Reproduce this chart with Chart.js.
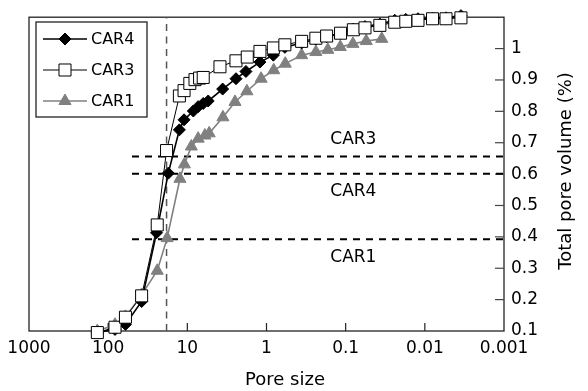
<!DOCTYPE html>
<html>
<head>
<meta charset="utf-8">
<script src="https://cdn.jsdelivr.net/npm/chart.js@4.4.0/dist/chart.umd.min.js"></script>
<style>
  html, body { margin: 0; padding: 0; background: #fff; }
  #wrap { width: 588px; height: 391px; position: relative; }
</style>
</head>
<body>
<div id="wrap"><canvas id="c"></canvas></div>
<script>
// series, in legend order
const seriesNames = ['CAR4', 'CAR3', 'CAR1'];

const car4Size = [137, 82, 60.5, 37.8, 24.5, 17.4, 12.6, 11.0, 8.4, 7.3, 6.3, 5.45, 3.58, 2.43, 1.82, 1.21, 0.82, 0.586, 0.36, 0.238, 0.174, 0.116, 0.080, 0.057, 0.037, 0.024, 0.0174, 0.0122, 0.0080, 0.0054, 0.0035];
const car4Vol = [0.095, 0.105, 0.121, 0.194, 0.413, 0.603, 0.741, 0.773, 0.801, 0.815, 0.825, 0.833, 0.871, 0.904, 0.927, 0.957, 0.979, 1.004, 1.018, 1.030, 1.038, 1.048, 1.062, 1.070, 1.078, 1.090, 1.093, 1.095, 1.097, 1.098, 1.105];

const car3Size = [137, 82, 60.5, 37.8, 24, 18.3, 12.6, 11.0, 9.3, 8.0, 7.0, 6.3, 3.87, 2.43, 1.75, 1.21, 0.82, 0.586, 0.36, 0.238, 0.174, 0.116, 0.080, 0.057, 0.037, 0.024, 0.0174, 0.0122, 0.0080, 0.0054, 0.0035];
const car3Vol = [0.095, 0.112, 0.144, 0.212, 0.438, 0.675, 0.849, 0.866, 0.889, 0.901, 0.906, 0.908, 0.942, 0.961, 0.973, 0.991, 1.002, 1.012, 1.023, 1.033, 1.040, 1.049, 1.060, 1.066, 1.074, 1.084, 1.087, 1.090, 1.095, 1.095, 1.098];

const car1Size = [137, 82, 60.5, 37.8, 24, 18, 12.4, 10.9, 8.9, 7.3, 6.0, 5.3, 3.55, 2.5, 1.77, 1.17, 0.81, 0.58, 0.36, 0.238, 0.168, 0.117, 0.081, 0.055, 0.035];
const car1Vol = [0.100, 0.120, 0.145, 0.215, 0.292, 0.396, 0.585, 0.631, 0.688, 0.713, 0.723, 0.730, 0.781, 0.830, 0.864, 0.904, 0.931, 0.952, 0.979, 0.989, 0.996, 1.005, 1.015, 1.024, 1.031];

// dashed reference lines and their labels
const thresholdNames = ['CAR3', 'CAR4', 'CAR1'];
const thresholdVol = [0.656, 0.601, 0.392];
const thresholdFrom = 50;
const thresholdTo = 0.001;
const refSize = 18.3;
const labelSize = 0.08;
const labelVol = [0.709, 0.545, 0.334];

// axes
const xTicks = [1000, 100, 10, 1, 0.1, 0.01, 0.001];
const xTickLabels = ['1000', '100', '10', '1', '0.1', '0.01', '0.001'];
const yTicks = [0.1, 0.2, 0.3, 0.4, 0.5, 0.6, 0.7, 0.8, 0.9, 1];
const yTickLabels = ['0.1', '0.2', '0.3', '0.4', '0.5', '0.6', '0.7', '0.8', '0.9', '1'];

const FONT = '"DejaVu Sans", sans-serif';
const GREY = '#808080';
const pts = (xs, ys) => xs.map((x, i) => ({ x: x, y: ys[i] }));

const styles = {
  CAR4: { color: '#000', line: 1.6, pointStyle: 'rectRot', radius: 6, fill: '#000' },
  CAR3: { color: '#000', line: 1, pointStyle: 'rect', radius: 8.5, fill: '#fff' },
  CAR1: { color: GREY, line: 1.6, pointStyle: 'triangle', radius: 7, fill: GREY }
};

function seriesDs(name, data, order) {
  const s = styles[name];
  return {
    label: name, data: data, showLine: true, order: order, clip: false,
    borderColor: s.color, borderWidth: s.line,
    pointStyle: s.pointStyle, pointRadius: s.radius,
    pointBackgroundColor: s.fill, pointBorderColor: s.color, pointBorderWidth: 1
  };
}

const datasets = [
  seriesDs('CAR3', pts(car3Size, car3Vol), 1),
  seriesDs('CAR4', pts(car4Size, car4Vol), 2),
  seriesDs('CAR1', pts(car1Size, car1Vol), 3)
];
thresholdVol.forEach((v, i) => {
  datasets.push({
    label: thresholdNames[i] + ' level', data: [{ x: thresholdFrom, y: v }, { x: thresholdTo, y: v }],
    showLine: true, order: 5, borderColor: '#000', borderWidth: 2, borderDash: [7, 6], pointRadius: 0
  });
});
datasets.push({
  label: 'ref', data: [{ x: refSize, y: 0.1 }, { x: refSize, y: 1.1 }],
  showLine: true, order: 6, borderColor: '#555', borderWidth: 1.5, borderDash: [7, 5.5], pointRadius: 0
});

// frame, inward ticks, legend box, labels and titles
const decor = {
  id: 'decor',
  beforeDatasetsDraw(chart) {
    const { ctx, chartArea: a, scales } = chart;
    ctx.save();
    ctx.strokeStyle = '#222';
    ctx.lineWidth = 1.3;
    ctx.strokeRect(a.left, a.top, a.right - a.left, a.bottom - a.top);
    ctx.lineWidth = 1.2;
    xTicks.slice(1, -1).forEach(v => {
      const x = scales.x.getPixelForValue(v);
      ctx.beginPath(); ctx.moveTo(x, a.bottom); ctx.lineTo(x, a.bottom - 8); ctx.stroke();
    });
    ctx.strokeStyle = '#444';
    yTicks.slice(1).forEach(v => {
      const y = scales.y.getPixelForValue(v);
      ctx.beginPath(); ctx.moveTo(a.right, y); ctx.lineTo(a.right - 9, y); ctx.stroke();
    });
    ctx.restore();
  },
  afterDraw(chart) {
    const { ctx, scales } = chart;
    ctx.save();
    // legend
    ctx.fillStyle = '#fff';
    ctx.fillRect(36, 22, 111, 95);
    ctx.strokeStyle = '#222';
    ctx.lineWidth = 1.3;
    ctx.strokeRect(36, 22, 111, 95);
    const rows = [39, 70, 101];
    seriesNames.forEach((name, i) => {
      const s = styles[name];
      const y = rows[i];
      ctx.strokeStyle = s.color;
      ctx.lineWidth = s.line;
      ctx.beginPath(); ctx.moveTo(43, y); ctx.lineTo(87, y); ctx.stroke();
      ctx.fillStyle = s.fill;
      ctx.lineWidth = 1;
      Chart.helpers.drawPoint(ctx, { pointStyle: s.pointStyle, radius: s.radius, rotation: 0, borderWidth: 1 }, 65, y);
      ctx.fillStyle = '#000';
      ctx.font = '16px ' + FONT;
      ctx.textAlign = 'left';
      ctx.textBaseline = 'middle';
      ctx.fillText(name, 91, y + 1);
    });
    // level labels
    ctx.font = '17px ' + FONT;
    ctx.textAlign = 'center';
    ctx.fillStyle = '#000';
    thresholdNames.forEach((name, i) => {
      ctx.fillText(name, scales.x.getPixelForValue(labelSize), scales.y.getPixelForValue(labelVol[i]));
    });
    // axis titles
    ctx.font = '18px ' + FONT;
    ctx.fillText('Pore size', 285, 380);
    ctx.translate(566, 171);
    ctx.rotate(-Math.PI / 2);
    ctx.fillText('Total pore volume (%)', 0, 0);
    ctx.restore();
  }
};

new Chart(document.getElementById('c'), {
  type: 'scatter',
  data: { datasets: datasets },
  plugins: [decor],
  options: {
    responsive: true, maintainAspectRatio: false, animation: false,
    layout: { padding: { left: 29, top: 15, right: 0, bottom: 0 } },
    plugins: { legend: { display: false }, tooltip: { enabled: false } },
    elements: { line: { tension: 0 } },
    scales: {
      x: {
        type: 'logarithmic', reverse: true, min: 0.001, max: 1000, position: 'bottom',
        grid: { display: false, drawTicks: false }, border: { display: false },
        afterBuildTicks: s => { s.ticks = xTicks.map(v => ({ value: v })); },
        afterFit: s => { s.height = 60; },
        ticks: { autoSkip: false, maxRotation: 0, padding: 7, color: '#000', font: { family: FONT, size: 17 },
          callback: (v, i) => xTickLabels[i] }
      },
      y: {
        type: 'linear', position: 'right', min: 0.1, max: 1.1,
        grid: { display: false, drawTicks: false }, border: { display: false },
        afterBuildTicks: s => { s.ticks = yTicks.map(v => ({ value: v })); },
        afterFit: s => { s.width = 84; },
        ticks: { padding: 7, color: '#000', font: { family: FONT, size: 17 },
          callback: (v, i) => yTickLabels[i] }
      }
    }
  }
});
</script>
</body>
</html>
